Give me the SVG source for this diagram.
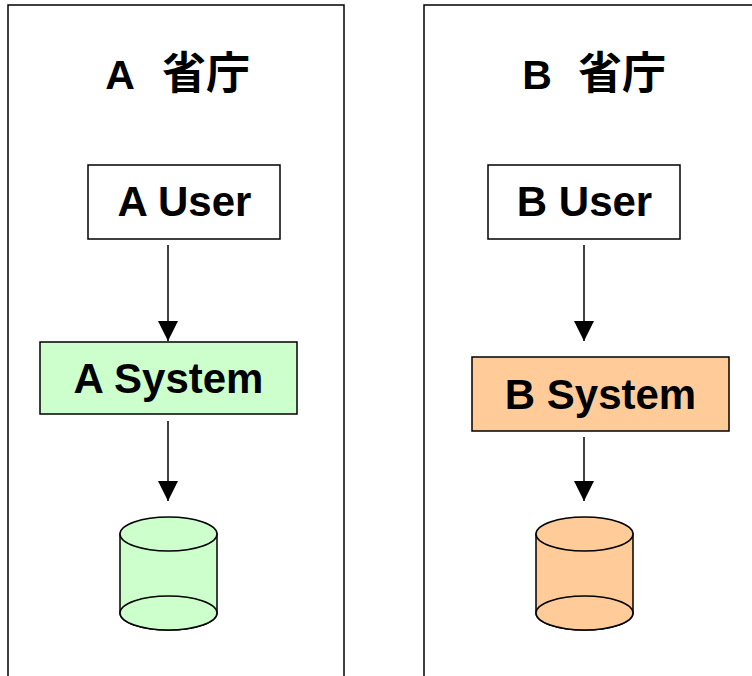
<svg xmlns="http://www.w3.org/2000/svg" width="752" height="676" viewBox="0 0 752 676">
  <defs>
    <style>
      .panel { fill: #ffffff; stroke: #000000; stroke-width: 1.5; }
      .box { stroke: #000000; stroke-width: 1.5; }
      .plain { fill: #ffffff; }
      .green { fill: #ccffcc; }
      .orange { fill: #ffcc99; }
      .label { font-family: "Liberation Sans", Arial, "Noto Sans CJK JP", sans-serif; font-weight: bold; fill: #000000; text-anchor: middle; }
      .title { font-size: 41px; }
      .cjk { font-size: 44px; }
      .name { font-size: 42px; }
      .edge { stroke: #000000; stroke-width: 1.5; fill: none; marker-end: url(#arrow); }
      .drum { stroke: #000000; stroke-width: 1.5; }
    </style>
    <marker id="arrow" viewBox="0 0 20 20" refX="20" refY="10" markerWidth="20" markerHeight="20" markerUnits="userSpaceOnUse" orient="auto">
      <path d="M0,0 L20,10 L0,20 Z" fill="#000000"/>
    </marker>
  </defs>

  <!-- organisation panels -->
  <g id="panel-a">
    <rect class="panel" x="8" y="5" width="336" height="690"/>
    <text class="label title" x="175" y="89"><tspan x="120">A</tspan><tspan class="cjk" x="206">省庁</tspan></text>
  </g>
  <g id="panel-b">
    <rect class="panel" x="424" y="5" width="360" height="690"/>
    <text class="label title" x="591" y="89"><tspan x="537">B</tspan><tspan class="cjk" x="622">省庁</tspan></text>
  </g>

  <!-- connectors -->
  <g id="connectors">
    <line class="edge" x1="168" y1="245" x2="168" y2="341"/>
    <line class="edge" x1="168" y1="421" x2="168" y2="501"/>
    <line class="edge" x1="584" y1="245" x2="584" y2="341"/>
    <line class="edge" x1="584" y1="437" x2="584" y2="501"/>
  </g>

  <!-- A side -->
  <g id="a-user">
    <rect class="box plain" x="88" y="165" width="192" height="74"/>
    <text class="label name" x="184.5" y="216">A User</text>
  </g>
  <g id="a-system">
    <rect class="box green" x="40" y="342" width="257" height="72"/>
    <text class="label name" x="168.5" y="393">A System</text>
  </g>
  <g id="a-store">
    <path class="drum green" d="M120,534 L120,613 A48.5,17 0 0 0 217,613 L217,534 Z"/>
    <ellipse class="drum green" cx="168.5" cy="613" rx="48.5" ry="17"/>
    <ellipse class="drum green" cx="168.5" cy="534" rx="48.5" ry="17"/>
  </g>

  <!-- B side -->
  <g id="b-user">
    <rect class="box plain" x="488" y="165" width="192" height="74"/>
    <text class="label name" x="584.5" y="216">B User</text>
  </g>
  <g id="b-system">
    <rect class="box orange" x="472" y="357" width="257" height="74"/>
    <text class="label name" x="600.5" y="409">B System</text>
  </g>
  <g id="b-store">
    <path class="drum orange" d="M536,534 L536,613 A48.5,17 0 0 0 633,613 L633,534 Z"/>
    <ellipse class="drum orange" cx="584.5" cy="613" rx="48.5" ry="17"/>
    <ellipse class="drum orange" cx="584.5" cy="534" rx="48.5" ry="17"/>
  </g>
</svg>
